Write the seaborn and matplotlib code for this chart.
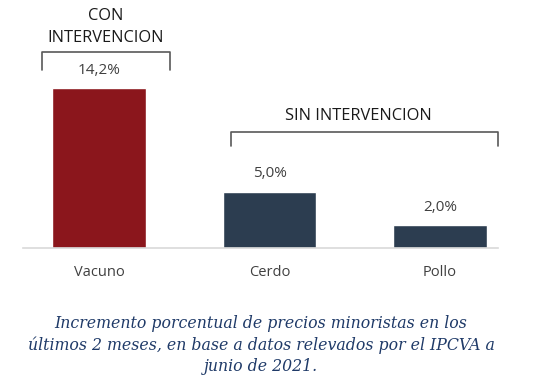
import matplotlib
matplotlib.use("Agg")
import matplotlib.pyplot as plt
import seaborn as sns
import pandas as pd

categories = ["Vacuno", "Cerdo", "Pollo"]
values = [14.2, 5.0, 2.0]
labels = ["14,2%", "5,0%", "2,0%"]
groups = ["CON", "SIN", "SIN"]
caption = ("Incremento porcentual de precios minoristas en los\n"
           "últimos 2 meses, en base a datos relevados por el IPCVA a\n"
           "junio de 2021.")

sns.set_theme(style="white")
plt.rcParams['font.family'] = ['Open Sans', 'DejaVu Sans']

df = pd.DataFrame({"cat": categories, "val": values, "grp": groups})
palette = {"CON": "#8b161c", "SIN": "#2c3d50"}

fig = plt.figure(figsize=(5.5, 3.83), dpi=100)
ax = fig.add_axes([23/550, (383-248)/383, (498-23)/550, 248/383])
sns.barplot(data=df, x="cat", y="val", hue="grp", palette=palette, dodge=False,
            width=0.55, legend=False, ax=ax, saturation=1)

ax.set_xlim(-0.446, 2.34)
ax.set_ylim(0, 22.0)
for s in ["top", "right", "left"]:
    ax.spines[s].set_visible(False)
ax.spines["bottom"].set_color("#d9d9d9")
ax.spines["bottom"].set_linewidth(1.2)
ax.set_yticks([])
ax.set_xlabel("")
ax.set_ylabel("")
ax.tick_params(axis="x", length=0, pad=12.5, labelsize=10.5, labelcolor="#404040")

txtc = "#404040"
for cont in ax.containers:
    for bar in cont:
        h = bar.get_height()
        if h != h or h == 0:
            continue
        i = int(round(bar.get_x() + bar.get_width() / 2))
        ax.annotate(labels[i], (bar.get_x() + bar.get_width() / 2, h),
                    xytext=(0, 7.5), textcoords="offset points",
                    ha="center", va="bottom", fontsize=11, color=txtc)

bc = "#595959"
tc = "#1a1a1a"
# CON bracket
x0, x1, yt, yb = -0.334, 0.416, 17.39, 15.8
ax.plot([x0, x0, x1, x1], [yb, yt, yt, yb], color=bc, lw=1.2, clip_on=False)
ax.text((x0 + x1) / 2, 18.6, "INTERVENCION", ha="center", va="center",
        fontsize=11.8, color=tc)
ax.text((x0 + x1) / 2, 20.55, "CON", ha="center", va="center",
        fontsize=11.8, color=tc)
# SIN bracket
x0, x1, yt, yb = 0.774, 2.34, 10.29, 9.05
ax.plot([x0, x0, x1, x1], [yb, yt, yt, yb], color=bc, lw=1.2, clip_on=False)
ax.text(1.52, 11.75, "SIN INTERVENCION", ha="center", va="center",
        fontsize=11.8, color=tc)

fig.text(261/550, 1 - 345/383, caption, ha="center", va="center", fontsize=11.35,
         family="DejaVu Serif", style="italic", color="#1f3a68",
         linespacing=1.32, multialignment="center")

fig.savefig("out.png", dpi=100)
